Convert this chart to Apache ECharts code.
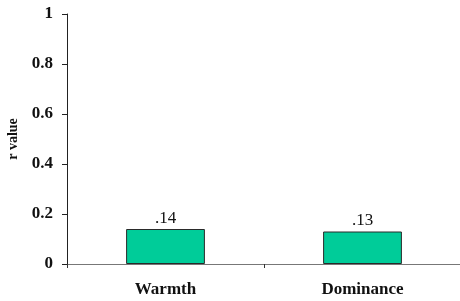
<!DOCTYPE html>
<html>
<head>
<meta charset="utf-8">
<script src="https://cdn.jsdelivr.net/npm/echarts@6/dist/echarts.min.js"></script>
<style>
  html, body { margin: 0; padding: 0; background: #fff; }
  #chart { width: 460px; height: 301px; }
</style>
</head>
<body>
<div id="chart"></div>
<script>
var categories = ['Warmth', 'Dominance'];
var rValues = [0.14, 0.13];
var valueLabels = ['.14', '.13'];

var myChart = echarts.init(document.getElementById('chart'));

var option = {
    animation: false,
    grid: {
        left: 67,
        right: -1,
        top: 14,
        bottom: 37,
        containLabel: false,
        outerBoundsMode: 'none'
    },
    xAxis: {
        type: 'category',
        data: categories,
        axisLine: { lineStyle: { color: '#777', width: 1 } },
        axisTick: { show: true, length: 4, lineStyle: { color: '#333' } },
        axisLabel: {
            margin: 17,
            fontFamily: 'Liberation Serif, Times New Roman, serif',
            fontWeight: 'bold',
            fontSize: 17,
            color: '#111'
        }
    },
    yAxis: {
        type: 'value',
        min: 0,
        max: 1,
        interval: 0.2,
        name: 'r value',
        nameLocation: 'middle',
        nameGap: 45,
        nameRotate: 90,
        nameTextStyle: {
            fontFamily: 'Liberation Serif, Times New Roman, serif',
            fontWeight: 'bold',
            fontSize: 14,
            color: '#111'
        },
        splitLine: { show: false },
        axisLine: { show: true, lineStyle: { color: '#222', width: 1 } },
        axisTick: { show: true, length: 5, lineStyle: { color: '#222' } },
        axisLabel: {
            margin: 14,
            fontFamily: 'Liberation Serif, Times New Roman, serif',
            fontWeight: 'bold',
            fontSize: 17,
            color: '#111',
            formatter: function (v) { return v === 0 || v === 1 ? String(v) : v.toFixed(1); }
        }
    },
    series: [{
        type: 'bar',
        data: rValues,
        barWidth: '40%',
        itemStyle: {
            color: '#00CC99',
            borderColor: '#2a2a2a',
            borderWidth: 1
        },
        label: {
            show: true,
            position: 'top',
            distance: 2,
            fontFamily: 'Liberation Serif, Times New Roman, serif',
            fontSize: 17,
            color: '#111',
            formatter: function (p) { return valueLabels[p.dataIndex]; }
        }
    }]
};

myChart.setOption(option);
</script>
</body>
</html>
